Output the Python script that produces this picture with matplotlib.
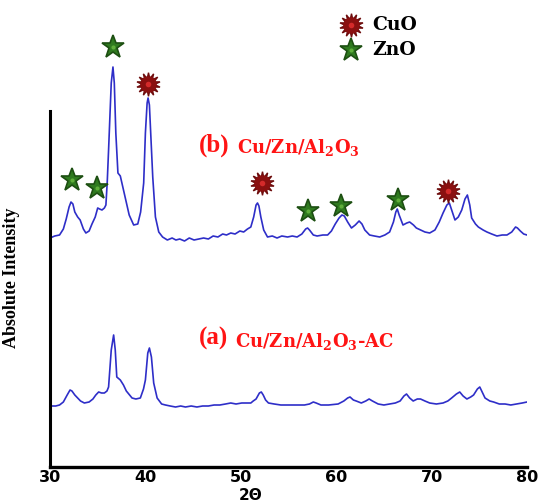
import matplotlib
matplotlib.use("Agg")
import matplotlib.pyplot as plt

# XRD patterns: (2-theta in deg, intensity in a.u.)
pattern_b = [
    (30.0, 229), (30.5, 231), (31.0, 232), (31.4, 238), (31.7, 248), (32.0, 260), (32.2, 265),
    (32.4, 263), (32.6, 255), (32.9, 250), (33.16, 247), (33.5, 238), (33.76, 234), (34.1, 236),
    (34.4, 243), (34.74, 250), (35.0, 259), (35.2, 258), (35.45, 257), (35.7, 259), (35.86, 262),
    (36.0, 285), (36.14, 317), (36.42, 384), (36.6, 400), (36.74, 384), (36.9, 334), (37.12, 294),
    (37.37, 291), (37.7, 277), (38.0, 264), (38.3, 252), (38.77, 242), (39.2, 243), (39.5, 255),
    (39.82, 284), (40.0, 334), (40.18, 364), (40.28, 369), (40.42, 362), (40.56, 334), (40.77, 290),
    (41.05, 250), (41.4, 235), (41.8, 230), (42.3, 227), (42.8, 229), (43.2, 227), (43.6, 228),
    (44.1, 226), (44.6, 229), (45.1, 227), (45.6, 228), (46.1, 229), (46.6, 228), (47.1, 231),
    (47.6, 230), (48.1, 233), (48.5, 232), (48.95, 234), (49.4, 233), (49.9, 236), (50.3, 235),
    (50.7, 238), (51.05, 240), (51.35, 250), (51.6, 262), (51.75, 264), (51.9, 261), (52.1, 250),
    (52.4, 237), (52.8, 230), (53.3, 231), (53.8, 229), (54.3, 231), (54.9, 230), (55.4, 231),
    (55.9, 230), (56.4, 233), (56.8, 238), (57.0, 239), (57.2, 237), (57.6, 232), (58.0, 231),
    (58.6, 232), (59.1, 232), (59.5, 236), (59.9, 243), (60.3, 249), (60.6, 252), (60.85, 251),
    (61.2, 245), (61.6, 239), (62.0, 242), (62.4, 246), (62.7, 243), (63.0, 237), (63.5, 232),
    (64.0, 231), (64.56, 230), (65.1, 232), (65.6, 235), (66.0, 245), (66.25, 255), (66.4, 258),
    (66.6, 252), (67.0, 242), (67.4, 244), (67.7, 245), (68.1, 242), (68.4, 239), (69.3, 235),
    (69.8, 234), (70.35, 237), (70.8, 245), (71.2, 254), (71.6, 262), (71.86, 264), (72.1, 257),
    (72.45, 247), (72.8, 250), (73.16, 257), (73.5, 268), (73.75, 272), (74.0, 262), (74.2, 249),
    (74.6, 243), (74.9, 240), (75.4, 237), (75.8, 235), (76.3, 233), (76.85, 231), (77.4, 232),
    (77.9, 232), (78.4, 235), (78.8, 240), (79.0, 239), (79.3, 236), (79.65, 233), (80.0, 232),
]
pattern_a = [
    (30.0, 61), (30.6, 61), (31.0, 62), (31.4, 65), (31.8, 72), (32.1, 77), (32.3, 76), (32.6, 72),
    (32.9, 69), (33.2, 66), (33.6, 64), (34.1, 65), (34.5, 68), (34.8, 72), (35.1, 75), (35.4, 74),
    (35.7, 74), (35.97, 76), (36.14, 80), (36.42, 117), (36.67, 132), (36.84, 117), (37.0, 90),
    (37.37, 87), (37.7, 82), (38.0, 76), (38.6, 69), (39.0, 68), (39.47, 69), (39.8, 78), (40.0, 87),
    (40.25, 114), (40.42, 119), (40.63, 110), (40.87, 84), (41.23, 69), (41.7, 63), (42.1, 62),
    (42.6, 61), (43.16, 60), (43.7, 61), (44.2, 60), (44.8, 61), (45.4, 60), (46.0, 61), (46.6, 61),
    (47.2, 62), (47.8, 62), (48.4, 63), (48.95, 64), (49.5, 63), (50.1, 64), (50.6, 64), (51.05, 64),
    (51.3, 66), (51.6, 68), (51.95, 74), (52.15, 75), (52.35, 72), (52.6, 67), (52.9, 64), (53.5, 63),
    (54.2, 62), (55.0, 62), (55.8, 62), (56.67, 62), (57.2, 63), (57.6, 65), (57.9, 64), (58.4, 62),
    (59.2, 62), (60.2, 63), (60.8, 66), (61.2, 69), (61.45, 70), (61.8, 67), (62.1, 66), (62.63, 64),
    (63.1, 66), (63.45, 68), (63.8, 66), (64.4, 63), (65.0, 62), (65.6, 63), (66.2, 64), (66.7, 66),
    (67.1, 71), (67.37, 73), (67.7, 69), (68.07, 66), (68.5, 68), (68.84, 68), (69.3, 66), (69.8, 64),
    (70.5, 63), (71.2, 64), (71.7, 66), (72.1, 69), (72.6, 73), (72.95, 75), (73.3, 71), (73.7, 68),
    (74.1, 70), (74.4, 72), (74.8, 78), (75.05, 80), (75.3, 75), (75.6, 69), (76.1, 66), (76.5, 65),
    (77.1, 63), (77.7, 63), (78.3, 62), (78.9, 63), (79.5, 64), (80.0, 65),
]
b_theta, b_int = zip(*pattern_b)
a_theta, a_int = zip(*pattern_a)

# phase markers above pattern (b)
zno_theta = [32.3, 34.95, 36.63, 57.05, 60.5, 66.5]
zno_int = [287, 279, 420, 256, 261, 267]
cuo_theta = [40.3, 52.2, 71.7]
cuo_int = [383, 284, 276]

plt.rcParams['mathtext.fontset'] = 'custom'
plt.rcParams['mathtext.bf'] = 'DejaVu Serif:bold'
plt.rcParams['mathtext.rm'] = 'DejaVu Serif:bold'

fig = plt.figure(figsize=(5.39, 5.03), dpi=100)
ax = fig.add_axes([50 / 539, 36 / 503, 477 / 539, 467 / 503])

line_col = '#2e2ec8'
ax.plot(b_theta, b_int, color=line_col, lw=1.2)
ax.plot(a_theta, a_int, color=line_col, lw=1.2)


def star(x, y, ms=17):
    ax.plot(x, y, ls='none', marker='*', ms=ms, mfc='#2f7a1f', mec='#1d4f12', mew=1.2, clip_on=False)
    ax.plot(x, y, ls='none', marker='o', ms=3, mfc='#5fae3a', mec='none', clip_on=False)


def cuo(x, y, ms=17):
    ax.plot(x, y, ls='none', marker=(14, 1, 0), ms=ms, mfc='#6e0d0d', mec='#6e0d0d', clip_on=False)
    ax.plot(x, y, ls='none', marker='o', ms=ms * 0.7, mfc='#8a1010', mec='none', clip_on=False)
    ax.plot(x, y, ls='none', marker='o', ms=4, mfc='#d42a2a', mec='none', clip_on=False)


star(zno_theta, zno_int)
cuo(cuo_theta, cuo_int)

# legend drawn by hand
cuo([61.6], [442])
star([61.5], [417])
ax.text(63.8, 442, 'CuO', fontsize=13.5, fontweight='bold', family='DejaVu Serif', va='center')
ax.text(63.8, 417, 'ZnO', fontsize=13.5, fontweight='bold', family='DejaVu Serif', va='center')

# sample labels
red = '#ff1414'
ax.text(45.6, 322, '(b)', color=red, fontsize=18, fontweight='bold', family='Liberation Serif', va='center')
ax.text(49.6, 319, r'Cu/Zn/Al$_\mathbf{2}$O$_\mathbf{3}$', color=red, fontsize=13,
        fontweight='bold', family='DejaVu Serif', va='center')
ax.text(45.6, 129, '(a)', color=red, fontsize=18, fontweight='bold', family='Liberation Serif', va='center')
ax.text(49.4, 126, r'Cu/Zn/Al$_\mathbf{2}$O$_\mathbf{3}$-AC', color=red, fontsize=13,
        fontweight='bold', family='DejaVu Serif', va='center')

ax.set_xlim(30, 80)
ax.set_ylim(0, 467)
ax.set_xticks([30, 40, 50, 60, 70, 80])
ax.set_yticks([])
ax.tick_params(axis='x', length=0, pad=2, labelsize=11.5)
for lab in ax.get_xticklabels():
    lab.set_fontweight('bold')

for s in ['top', 'right']:
    ax.spines[s].set_visible(False)
ax.spines['left'].set_linewidth(2.2)
ax.spines['bottom'].set_linewidth(2.4)
ax.spines['left'].set_bounds(0, 356)

# x label sits under the "50" in the original, not centred
fig.text(251 / 539, 1 - 495.5 / 503, '2Θ', fontsize=11, fontweight='bold', ha='center', va='center')
ax.set_ylabel('Absolute Intensity', fontsize=13, family='Liberation Serif', fontweight='bold')
ax.yaxis.set_label_coords(-30 / 477, 189 / 467)
ax.patch.set_alpha(0)

fig.savefig('out.png', dpi=100)
